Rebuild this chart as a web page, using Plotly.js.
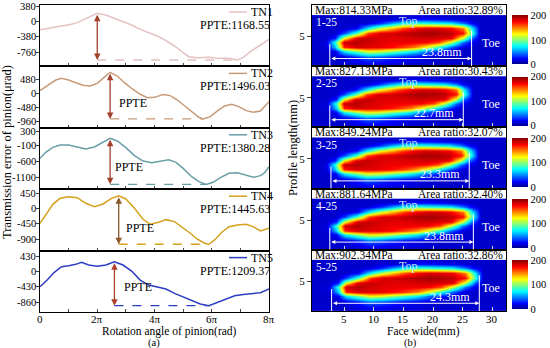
<!DOCTYPE html>
<html><head><meta charset="utf-8">
<script src="https://cdn.plot.ly/plotly-3.0.1.min.js"></script>
<style>html,body{margin:0;padding:0;background:#fff}</style>
</head><body><div id="chart" style="width:550px;height:348px"></div>
<script>
// ---------- (a) transmission error data (x in multiples of pi) ----------
const tn1Angle = [0,0.3,0.6,0.9,1.1,1.3,1.55,1.8,2.0,2.3,2.6,2.9,3.2,3.5,3.8,4.1,4.4,4.7,5.0,5.2,5.5,5.9,6.2,6.6,6.9,7.1,7.4,7.7,8.0];
const tn1TE = [-210,-173,-133,-108,-74,-33,50,115,199,157,75,-9,-91,-198,-281,-363,-480,-611,-777,-876,-901,-893,-918,-916,-958,-893,-728,-586,-445];
const tn2Angle = [0,0.3,0.55,0.75,1.0,1.25,1.5,1.75,2.0,2.2,2.45,2.7,2.95,3.2,3.5,3.75,4.0,4.3,4.55,4.8,5.05,5.3,5.55,5.7,5.95,6.2,6.45,6.7,6.95,7.2,7.45,7.7,8.0];
const tn2TE = [86,278,446,503,446,356,267,244,334,503,706,581,356,166,-36,-150,-139,-47,-81,-228,-430,-642,-811,-868,-790,-598,-430,-373,-453,-588,-642,-598,-285];
const tn3Angle = [0,0.2,0.45,0.7,1.0,1.3,1.6,1.9,2.15,2.45,2.7,3.0,3.3,3.6,3.9,4.2,4.5,4.75,5.0,5.3,5.55,5.8,6.05,6.3,6.6,6.9,7.2,7.45,7.7,7.85,8.0];
const tn3TE = [-507,-324,-171,-100,-100,-171,-222,-161,-49,105,22,-181,-426,-590,-641,-590,-549,-631,-814,-1069,-1222,-1304,-1242,-1100,-966,-946,-1018,-1089,-1038,-946,-764];
const tn4Angle = [0,0.2,0.45,0.7,1.0,1.3,1.6,1.9,2.2,2.5,2.75,3.0,3.3,3.6,3.85,4.15,4.4,4.7,4.95,5.25,5.5,5.75,5.9,6.1,6.35,6.6,6.9,7.2,7.45,7.7,8.0];
const tn4TE = [-435,-190,125,302,350,320,155,55,134,302,379,282,7,-317,-465,-406,-328,-387,-535,-730,-907,-1025,-1055,-928,-700,-535,-485,-465,-535,-662,-583];
const tn5Angle = [0,0.25,0.5,0.75,1.0,1.25,1.45,1.7,2.0,2.3,2.6,2.9,3.2,3.5,3.8,4.1,4.4,4.7,5.0,5.3,5.6,5.9,6.2,6.5,6.8,7.1,7.4,7.7,8.0];
const tn5TE = [-426,-240,-25,132,160,198,254,179,142,179,272,179,11,-240,-379,-426,-491,-612,-705,-817,-909,-956,-863,-751,-677,-640,-612,-593,-491];

const seriesNames = ['TN1','TN2','TN3','TN4','TN5'];
const ppteValues = ['1168.55','1496.03','1380.28','1445.63','1209.37'];
const yTickVals = [[380,0,-380,-760],[480,0,-480,-960],[300,-100,-600,-1100],[450,0,-450,-900],[430,0,-430,-860]];
const xTickVals = [0,2,4,6,8];
const xTickText = ['0','2π','4π','6π','8π'];

// ---------- (b) contact stress data ----------
const profileY = [0,1.5,2.5,3.2,4.0,4.8,5.6,6.4,7.2,8.0,8.4];
const contactZ = [
 [12,12,12,12,12,13,13,12,12,12,12,12,12,12,12,12,12],
 [12,12,12,14,25,40,35,28,22,18,15,12,12,12,12,12,12],
 [12,12,20,70,95,120,115,100,85,70,45,28,15,12,12,12,12],
 [12,14,60,165,180,178,176,170,160,145,115,78,40,15,12,12,12],
 [12,16,80,185,188,182,178,176,176,175,172,158,108,45,18,12,12],
 [12,12,28,120,180,185,180,178,178,180,182,180,176,110,40,12,12],
 [12,12,12,35,85,160,180,182,186,190,192,190,186,170,85,12,12],
 [12,12,12,12,20,70,110,135,158,172,180,178,172,148,70,12,12],
 [12,12,12,12,12,15,30,55,75,85,80,75,70,45,20,12,12],
 [12,12,12,12,12,12,13,15,20,25,25,22,18,14,12,12,12],
 [12,12,12,12,12,12,12,12,13,14,14,13,12,12,12,12,12]
];
const faceX = [
 [0,2,3.5,5,7,9,11,13,15,17,19,21,23,25,26.5,28,32],
 [0,2.1,3.6,5,6.9,8.8,10.7,12.6,14.4,16.3,18.2,20.1,22,23.9,25.3,26.8,32],
 [0,2,3.5,5,7,8.9,10.9,12.9,14.9,16.8,18.8,20.8,22.7,24.7,26.2,27.7,32],
 [0,2.2,3.7,5.2,7.2,9.2,11.2,13.2,15.1,17.1,19.1,21.1,23.1,25.1,26.6,28.1,32],
 [0,2.4,3.9,5.4,7.4,9.4,11.4,13.4,15.4,17.4,19.4,21.4,23.4,25.4,27.0,28.5,32]
];
const faceTicks = [5,10,15,20,25,30];
const maxStress = ['814.33','827.13','849.24','881.64','902.34'];
const areaRatio = ['32.89','30.43','32.07','32.40','32.86'];
const patternLen = ['23.8','22.7','23.3','23.8','24.3'];
const patternLeft = [2.6,2.6,2.8,2.6,2.9];
const patternRight = [26.5,25.1,26.1,26.8,27.8];
const caseLabels = ['1-25','2-25','3-25','4-25','5-25'];

// ---------- styling ----------
const W=550,H=348;
const FONT='Liberation Serif, Times New Roman, serif';
const colors=['#e4c2c2','#c79a78','#6a9ea7','#d4a11c','#2b3dc0'];
const arrowColors=['#a3402c','#a3402c','#a3402c','#8a5a2a','#b0402a'];
const yRanges=[[-1117,405],[-1166,905],[-1452,426],[-1242,571],[-1131,581]];
const ppteLabelPos=[null,[2.7,-330],[2.55,-764],[2.95,-574],[2.85,-426]];
const angles=[tn1Angle,tn2Angle,tn3Angle,tn4Angle,tn5Angle];
const tes=[tn1TE,tn2TE,tn3TE,tn4TE,tn5TE];
const jet=[[0,'#00008f'],[0.11,'#0000ff'],[0.36,'#00ffff'],[0.61,'#ffff00'],[0.86,'#ff0000'],[1,'#800000']];

const layout={width:W,height:H,margin:{l:0,r:0,t:0,b:0},paper_bgcolor:'#fff',plot_bgcolor:'#fff',
 showlegend:false,font:{family:FONT,size:12,color:'#000'},annotations:[],shapes:[]};
const traces=[];
const LH=61.4, LT=5, RH=61.2, RT=5;
const TICKF={size:11,family:FONT,color:'#000'};
const YTICKF={size:10.5,family:FONT,color:'#000'};
const XLAB_Y=1-318.5/H;

for(let i=0;i<5;i++){
  const k=i+1, sfx=k===1?'':String(k);
  const top=LT+LH*i, bot=top+LH;
  layout['xaxis'+sfx]={domain:[40/W,269/W],anchor:'y'+sfx,range:[0,8],tickvals:[0,1,2,3,4,5,6,7,8],
    ticktext:Array(9).fill(''),ticks:'inside',ticklen:3,showline:true,mirror:true,
    linecolor:'#000',linewidth:1,showgrid:false,zeroline:false,tickfont:TICKF};
  layout['yaxis'+sfx]={domain:[1-bot/H,1-top/H],anchor:'x'+sfx,range:yRanges[i],tickvals:yTickVals[i],
    ticktext:yTickVals[i].map(()=>''),ticks:'outside',ticklen:3,showline:true,mirror:true,linecolor:'#000',
    linewidth:1,showgrid:false,zeroline:false,tickfont:TICKF};
  yTickVals[i].forEach(v=>layout.annotations.push({xref:'paper',yref:'y'+sfx,x:36.5/W,y:v,text:String(v),
    showarrow:false,xanchor:'right',yanchor:'middle',font:YTICKF,borderpad:0}));
  if(i===4) xTickVals.forEach((v,j)=>layout.annotations.push({xref:'x'+sfx,yref:'paper',x:v,y:XLAB_Y,text:xTickText[j],
    showarrow:false,xanchor:'center',yanchor:'middle',font:TICKF,borderpad:0}));
  const xs=angles[i], ys=tes[i];
  traces.push({type:'scatter',mode:'lines',x:xs,y:ys,xaxis:'x'+sfx,yaxis:'y'+sfx,
    line:{color:colors[i],width:1.5},hoverinfo:'skip'});
  let pi=0,mi=0; ys.forEach((v,j)=>{if(v>ys[pi])pi=j; if(v<ys[mi])mi=j;});
  layout.shapes.push({type:'line',xref:'x'+sfx,yref:'y'+sfx,x0:xs[pi],x1:xs[mi],y0:ys[mi],y1:ys[mi],
    line:{color:colors[i],width:1.3,dash:'dash'}});
  layout.annotations.push({xref:'x'+sfx,yref:'y'+sfx,axref:'x'+sfx,ayref:'y'+sfx,x:xs[pi],y:ys[mi],
    ax:xs[pi],ay:ys[pi],text:'',showarrow:true,arrowside:'end+start',arrowhead:2,arrowsize:1,
    arrowwidth:1.3,arrowcolor:arrowColors[i],standoff:0,startstandoff:0});
  if(ppteLabelPos[i]) layout.annotations.push({xref:'x'+sfx,yref:'y'+sfx,x:ppteLabelPos[i][0],y:ppteLabelPos[i][1],
    text:'PPTE',showarrow:false,xanchor:'left',yanchor:'middle',font:{size:12,family:FONT}});
  layout.shapes.push({type:'line',xref:'paper',yref:'paper',x0:229/W,x1:247/W,y0:1-(top+7)/H,y1:1-(top+7)/H,
    line:{color:colors[i],width:1.5}});
  layout.annotations.push({xref:'paper',yref:'paper',x:249/W,y:1-(top+7)/H,text:seriesNames[i],showarrow:false,
    xanchor:'left',yanchor:'middle',font:{size:12,family:FONT}});
  layout.annotations.push({xref:'paper',yref:'paper',x:272/W,y:1-(top+20)/H,text:'PPTE:'+ppteValues[i],showarrow:false,
    xanchor:'right',yanchor:'middle',font:{size:12,family:FONT}});
}

for(let i=0;i<5;i++){
  const k=i+6, sfx=String(k);
  const top=RT+RH*i, bot=top+RH;
  layout['xaxis'+sfx]={domain:[312/W,506/W],anchor:'y'+sfx,range:[-0.4,32.3],tickvals:faceTicks,
    ticktext:Array(6).fill(''),ticks:'inside',ticklen:4,tickcolor:'#d8d8d8',
    showline:true,mirror:true,linecolor:'#000',linewidth:1,showgrid:false,zeroline:false,tickfont:TICKF};
  layout['yaxis'+sfx]={domain:[1-bot/H,1-top/H],anchor:'x'+sfx,range:[0,10.3],tickvals:[5],ticktext:['5'],
    ticks:'outside',ticklen:4,showline:true,mirror:true,linecolor:'#000',linewidth:1,showgrid:false,zeroline:false,
    tickfont:TICKF};
  if(i===4) faceTicks.forEach(v=>layout.annotations.push({xref:'x'+sfx,yref:'paper',x:v,y:XLAB_Y,text:String(v),
    showarrow:false,xanchor:'center',yanchor:'middle',font:TICKF,borderpad:0}));
  const hmTop=top+10.5;
  traces.push({type:'heatmap',x:faceX[i],y:profileY,z:contactZ,xaxis:'x'+sfx,yaxis:'y'+sfx,colorscale:jet,
    zmin:0,zmax:200,zsmooth:'best',hoverinfo:'skip',
    colorbar:{x:512/W,xanchor:'left',xpad:0,ypad:0,y:1-(hmTop+24.5)/H,yanchor:'middle',len:49/H,lenmode:'fraction',
      thickness:16,thicknessmode:'pixels',tickvals:[0,100,200],ticks:'',outlinewidth:0,tickfont:{size:10.5,family:FONT}}});
  const ax='x'+sfx, ay='y'+sfx;
  const A=(o)=>layout.annotations.push(Object.assign({xref:ax,yref:ay,showarrow:false},o));
  A({x:-0.25,y:9.45,text:'Max:'+maxStress[i]+'MPa',xanchor:'left',yanchor:'middle',font:{size:11.5,family:FONT}});
  A({x:32.2,y:9.45,text:'Area ratio:'+areaRatio[i]+'%',xanchor:'right',yanchor:'middle',font:{size:11.5,family:FONT}});
  A({x:0,y:7.4,text:caseLabels[i],xanchor:'left',yanchor:'middle',font:{size:11.5,family:FONT,color:'#fff'}});
  A({x:15.8,y:7.6,text:'Top',xanchor:'center',yanchor:'middle',font:{size:12,family:FONT,color:'#bfe8ff'}});
  A({x:29.8,y:3.9,text:'Toe',xanchor:'center',yanchor:'middle',font:{size:12,family:FONT,color:'#fff'}});
  A({x:patternRight[i]-5,y:2.4,text:patternLen[i]+'mm',xanchor:'center',yanchor:'middle',font:{size:12,family:FONT,color:'#fff'}});
  layout.annotations.push({xref:ax,yref:ay,axref:ax,ayref:ay,x:patternRight[i],y:1.3,ax:patternLeft[i],ay:1.3,text:'',
    showarrow:true,arrowside:'end+start',arrowhead:2,arrowsize:0.8,arrowwidth:1,arrowcolor:'#fff',standoff:0,startstandoff:0});
  layout.shapes.push({type:'line',xref:ax,yref:ay,x0:patternLeft[i],x1:patternLeft[i],y0:0,y1:3.7,line:{color:'#fff',width:1}});
  layout.shapes.push({type:'line',xref:ax,yref:ay,x0:patternRight[i],x1:patternRight[i],y0:0,y1:6.0,line:{color:'#fff',width:1}});
}

const P=(o)=>layout.annotations.push(Object.assign({xref:'paper',yref:'paper',showarrow:false,xanchor:'center',yanchor:'middle',borderpad:0},o));
P({x:7/W,y:1-152/H,text:'Transmission error of pinion(μrad)',textangle:-90,font:{size:12.5,family:FONT}});
P({x:169/W,y:1-331/H,text:'Rotation angle of pinion(rad)',font:{size:11.5,family:FONT}});
P({x:154/W,y:1-342.5/H,text:'(a)',font:{size:10.5,family:FONT}});
P({x:293/W,y:1-148/H,text:'Profile length(mm)',textangle:-90,font:{size:12.5,family:FONT}});
P({x:423/W,y:1-331/H,text:'Face wide(mm)',font:{size:11.5,family:FONT}});
P({x:410/W,y:1-342.5/H,text:'(b)',font:{size:10.5,family:FONT}});

Plotly.newPlot('chart',traces,layout,{staticPlot:true,displayModeBar:false});
</script></body></html>
